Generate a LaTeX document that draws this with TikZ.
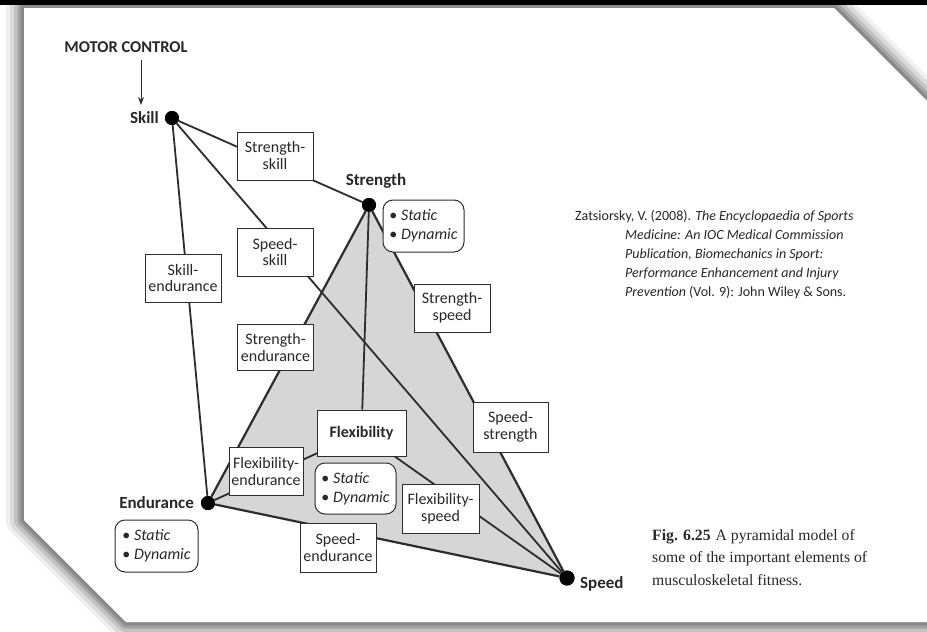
\documentclass[tikz,border=0pt]{standalone}
\usepackage{fontspec}
\setmainfont{Carlito}
\newfontfamily\capfont{Liberation Serif}
\usetikzlibrary{arrows.meta}
\definecolor{ink}{RGB}{40,40,40}
\definecolor{tri}{RGB}{214,214,214}
\definecolor{edge}{RGB}{45,45,45}
\begin{document}
\begin{tikzpicture}[x=1pt,y=-1pt,
  lbl/.style={draw=edge, line width=1pt, fill=white, align=center, text=ink,
    font=\fontsize{16}{17}\selectfont, minimum width=76pt, minimum height=48pt, inner sep=1pt},
  sdbox/.style={draw=edge, line width=1pt, rounded corners=10pt, fill=white, align=left, text=ink,
    font=\fontsize{16}{19}\selectfont\itshape, minimum width=81pt, minimum height=52pt, inner sep=1pt},
  dot/.style={circle, fill=black, minimum size=14pt, inner sep=0pt},
  nlab/.style={font=\fontsize{17}{19}\selectfont\bfseries, text=ink, inner sep=0pt},
  conn/.style={draw=edge, line width=1.8pt},
  tedge/.style={draw=edge, line width=2.2pt},
  arr/.style={draw=edge, line width=1pt, -{Stealth[length=8pt,width=6pt]}}
]
\useasboundingbox (0,0) rectangle (927,632);
\clip (0,0) rectangle (927,632);
\fill[white] (0,0) rectangle (927,632);
% page shadow
\foreach \w/\c in {36/6, 28/14, 20/24, 13/36, 7/46}{
  \draw[line width=\w pt, black!\c, line join=round]
    (24,8) -- (834,8) -- (940,114) -- (940,622) -- (126,622) -- (24,520) -- cycle;
}
\fill[black] (0,0) rectangle (927,4.5);
\fill[white] (24,8) -- (834,8) -- (940,114) -- (940,622) -- (126,622) -- (24,520) -- cycle;

% vertices
\node[dot] (skill) at (172,118) {};
\node[dot] (strength) at (369,205) {};
\node[dot] (endur) at (208,503) {};
\node[dot, minimum size=15pt] (speed) at (567,578) {};
\node[lbl, font=\fontsize{16}{17}\selectfont\bfseries, minimum width=89pt, minimum height=46pt] (flex) at (361.5,433) {Flexibility};

% grey face
\fill[tri] (endur.center) -- (strength.center) -- (speed.center) -- cycle;

% connectors
\draw[conn] (skill) -- (strength);
\draw[conn] (skill) -- (speed);
\draw[conn] (skill) -- (endur);
\draw[tedge] (strength) -- (endur);
\draw[tedge] (strength) -- (speed);
\draw[tedge] (endur) -- (speed);
\draw[conn] (strength) -- (flex);
\draw[conn] (flex.center) -- (endur);
\draw[conn] (flex.center) -- (speed);

% redraw nodes on top
\node[dot] at (skill) {};
\node[dot] at (strength) {};
\node[dot] at (endur) {};
\node[dot, minimum size=15pt] at (speed) {};
\node[lbl, font=\fontsize{16}{17}\selectfont\bfseries, minimum width=89pt, minimum height=46pt] at (flex) {Flexibility};

% pair labels
\node[lbl] (b1) at (275,156) {Strength-\\skill};
\node[lbl] (b2) at (275,252) {Speed-\\skill};
\node[lbl] (b3) at (183,278) {Skill-\\endurance};
\node[lbl, minimum height=46pt] (b4) at (275.5,347.5) {Strength-\\endurance};
\node[lbl] (b5) at (452,308) {Strength-\\speed};
\node[lbl, minimum width=75pt, minimum height=50pt] (b6) at (510.5,427) {Speed-\\strength};
\node[lbl, minimum width=74pt] (b7) at (266,471) {Flexibility-\\endurance};
\node[lbl, minimum width=77pt, minimum height=49pt] (b8) at (440.5,508.5) {Flexibility-\\speed};
\node[lbl, minimum height=49pt] (b9) at (338,547.5) {Speed-\\endurance};

% static / dynamic
\node[sdbox] (sd1) at (423.5,226) {{\upshape\textbullet} Static\\{\upshape\textbullet} Dynamic};
\node[sdbox, minimum height=51pt] (sd2) at (355.5,488.5) {{\upshape\textbullet} Static\\{\upshape\textbullet} Dynamic};
\node[sdbox, minimum width=83pt] (sd3) at (156.5,546) {{\upshape\textbullet} Static\\{\upshape\textbullet} Dynamic};

% vertex names
\node[nlab, anchor=east] (skillL) at (159,118) {Skill};
\node[nlab] (strengthL) at (376,181) {Strength};
\node[nlab, anchor=east] (endurL) at (194,503) {Endurance};
\node[nlab, anchor=west] (speedL) at (580,584) {Speed};
\node[nlab, font=\fontsize{16.5}{19}\selectfont\bfseries] (motor) at (126,47) {MOTOR CONTROL};
\draw[arr, shorten <=7pt, shorten >=3pt] (motor.south -| 141,0) -- (141,108);

% reference
\node[anchor=north west, align=left, inner sep=0pt, text=ink, font=\fontsize{14}{19}\selectfont] (cite) at (575,210)
  {Zatsiorsky, V. (2008). \textit{The Encyclopaedia of Sports}\\
   \hspace*{50pt}\textit{Medicine: An IOC Medical Commission}\\
   \hspace*{50pt}\textit{Publication, Biomechanics in Sport:}\\
   \hspace*{50pt}\textit{Performance Enhancement and Injury}\\
   \hspace*{50pt}\textit{Prevention} (Vol. 9): John Wiley \& Sons.};

% caption
\node[anchor=north west, align=left, inner sep=0pt, text=ink, font=\capfont\fontsize{15.7}{22.5}\selectfont] (cap) at (652,529)
  {\textbf{Fig. 6.25}\hspace{5pt}A pyramidal model of\\
   some of the important elements of\\
   musculoskeletal fitness.};
\end{tikzpicture}
\end{document}
